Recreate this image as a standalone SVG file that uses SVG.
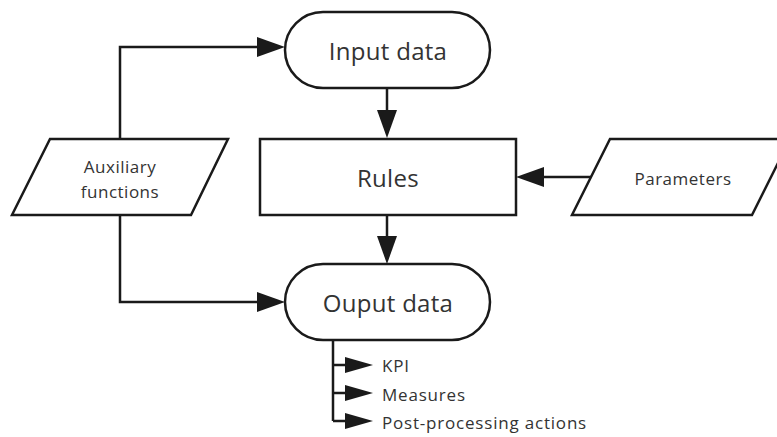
<svg xmlns="http://www.w3.org/2000/svg" width="777" height="437" viewBox="0 0 777 437">
<style>
.shape{fill:#fff;stroke:#1a1a1a;stroke-width:2.5}
.line{fill:none;stroke:#1a1a1a;stroke-width:2.5}
.arr{fill:#1a1a1a;stroke:none}
text{font-family:"Open Sans","Liberation Sans",sans-serif;fill:#333;text-anchor:middle;dominant-baseline:central}
.big{font-size:24px;letter-spacing:0.3px}
.mid{font-size:17px;letter-spacing:0.5px}
.small{font-size:17px;letter-spacing:0.8px;text-anchor:start}
</style>
<g id="connectors">
<path class="line" d="M120,139 V47 H260"/>
<polygon class="arr" points="285,47 257,37 257,57"/>
<path class="line" d="M387,88 V112"/>
<polygon class="arr" points="387,138 377,110 397,110"/>
<path class="line" d="M387,215 V238"/>
<polygon class="arr" points="387,264 377,236 397,236"/>
<path class="line" d="M120,215 V302 H260"/>
<polygon class="arr" points="285,302 257,292 257,312"/>
<path class="line" d="M591,177 H542"/>
<polygon class="arr" points="516,177 544,167 544,187"/>
<path class="line" d="M333,340 V421 M333,365 H350 M333,393 H350 M333,421 H350"/>
<polygon class="arr" points="373,365 345,357 345,373"/>
<polygon class="arr" points="373,393 345,385 345,401"/>
<polygon class="arr" points="373,421 345,413 345,429"/>
</g>
<g id="input">
<rect class="shape" x="285" y="12" width="205" height="76" rx="38"/>
<text class="big" x="388" y="50">Input data</text>
</g>
<g id="rules">
<rect class="shape" x="260" y="139" width="256" height="76"/>
<text class="big" x="388" y="177">Rules</text>
</g>
<g id="output">
<rect class="shape" x="285" y="264" width="205" height="76" rx="38"/>
<text class="big" x="388" y="302">Ouput data</text>
</g>
<g id="auxiliary">
<polygon class="shape" points="50,139 228,139 191,215 12,215"/>
<text class="mid" x="120" y="166">Auxiliary</text>
<text class="mid" x="120" y="191">functions</text>
</g>
<g id="parameters">
<polygon class="shape" points="610,139 790,139 752,215 572,215"/>
<text class="mid" x="683" y="178">Parameters</text>
</g>
<g id="results">
<text class="small" x="382" y="365">KPI</text>
<text class="small" x="382" y="394">Measures</text>
<text class="small" x="382" y="422">Post-processing actions</text>
</g>
</svg>
